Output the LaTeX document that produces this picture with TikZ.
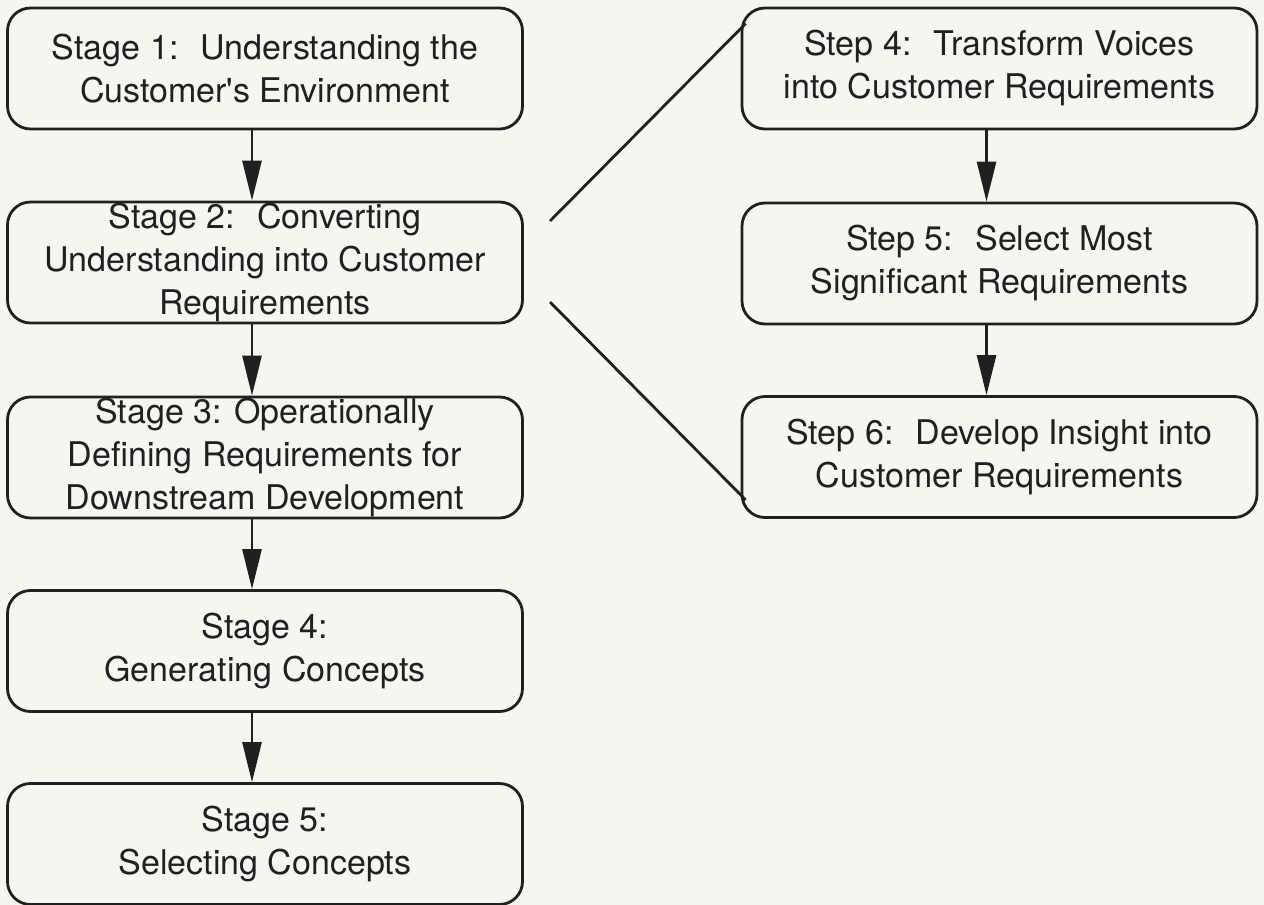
\documentclass[tikz,border=0pt]{standalone}
\usepackage{fontspec}
\setmainfont{TeX Gyre Heros}
\usetikzlibrary{arrows.meta,positioning}

\definecolor{paper}{RGB}{246,246,241}
\definecolor{ink}{RGB}{32,32,32}

\tikzset{
  stagebox/.style={draw=ink, line width=2.8pt, rounded corners=23pt,
    minimum width=515pt, minimum height=121pt, inner sep=0pt,
    align=center, text=ink, font=\fontsize{34}{43}\selectfont},
  flow/.style={draw=ink, line width=2.8pt, -{Triangle[length=40pt,width=19pt]}},
  fan/.style={draw=ink, line width=2.8pt}
}

\begin{document}
\begin{tikzpicture}[x=1pt,y=-1pt]
\useasboundingbox (0,0) rectangle (1264,905);
\fill[paper] (0,0) rectangle (1264,905);

% stages
\node[stagebox] (s1) at (265,68.5) {Stage 1:~ Understanding the\\Customer\textquotesingle s Environment};
\node[stagebox] (s2) at (265,262.5) {Stage 2:~ Converting\\Understanding into Customer\\Requirements};
\node[stagebox] (s3) at (265,457.5) {Stage 3: Operationally\\Defining Requirements for\\Downstream Development};
\node[stagebox] (s4) at (265,651) {Stage 4:\\Generating Concepts};
\node[stagebox] (s5) at (265,844) {Stage 5:\\Selecting Concepts};

% steps of stage 2
\node[stagebox] (t4) at (999.5,68.5) {Step 4:~ Transform Voices\\into Customer Requirements};
\node[stagebox] (t5) at (999.5,263.5) {Step 5:~ Select Most\\Significant Requirements};
\node[stagebox] (t6) at (999.5,457) {Step 6:~ Develop Insight into\\Customer Requirements};

\foreach \a/\b in {s1/s2,s2/s3,s3/s4,s4/s5,t4/t5,t5/t6}
  \draw[flow] ([xshift=-13pt]\a.south) -- ([xshift=-13pt]\b.north);

\coordinate (fanup) at (550,221);
\coordinate (fandown) at (550,302);
\draw[fan] (fanup) -- ([shift={(5,17)}]t4.north west);
\draw[fan] (fandown) -- ([shift={(5,-19)}]t6.south west);
\end{tikzpicture}
\end{document}
